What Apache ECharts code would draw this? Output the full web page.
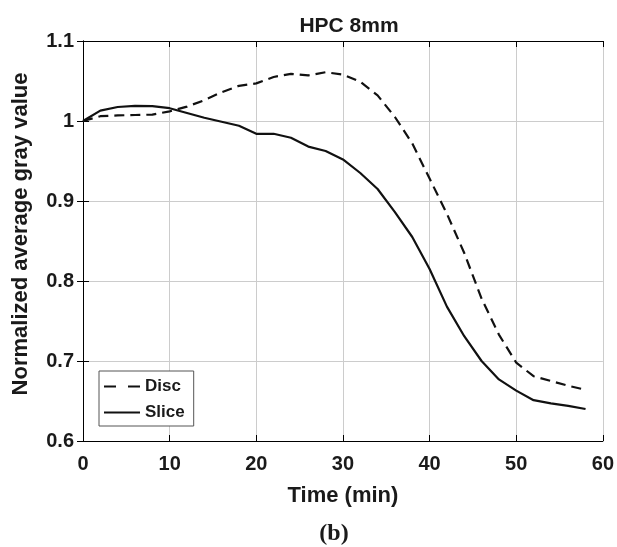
<!DOCTYPE html>
<html>
<head>
<meta charset="utf-8">
<script src="https://cdn.jsdelivr.net/npm/echarts@6/dist/echarts.min.js"></script>
<style>
  html, body { margin: 0; padding: 0; background: #fff; }
  #chart { width: 617px; height: 547px; }
</style>
</head>
<body>
<div id="chart"></div>
<script>
// time in minutes
const timeMin = [0, 2, 4, 6, 8, 10, 12, 14, 16, 18, 20, 22, 24, 26, 28, 30,
                 32, 34, 36, 38, 40, 42, 44, 46, 48, 50, 52, 54, 56, 58];

const discValues = [1.0, 1.006, 1.007, 1.0075, 1.008, 1.012, 1.018, 1.026, 1.036, 1.044,
                    1.047, 1.055, 1.059, 1.057, 1.061, 1.058, 1.049, 1.032, 1.005, 0.972,
                    0.928, 0.884, 0.835, 0.778, 0.733, 0.698, 0.681, 0.675, 0.669, 0.664];

const sliceValues = [1.0, 1.013, 1.0175, 1.019, 1.0185, 1.016, 1.010, 1.004, 0.999, 0.994,
                     0.984, 0.984, 0.979, 0.968, 0.9625, 0.952, 0.935, 0.915, 0.886, 0.855,
                     0.815, 0.768, 0.731, 0.700, 0.677, 0.663, 0.651, 0.647, 0.644, 0.640];

const font = 'Liberation Sans, Arial, sans-serif';
const ink = '#1a1a1a';

function pairs(xs, ys) {
    return xs.map((x, i) => [x, ys[i]]);
}

const chart = echarts.init(document.getElementById('chart'), null, { renderer: 'canvas' });

// top / right axes only close the box (ticks, no labels)
const boxAxis = {
    axisLine: { show: true, lineStyle: { color: '#000', width: 1 } },
    axisTick: { show: true, inside: true, length: 6, lineStyle: { color: '#000' } },
    axisLabel: { show: false },
    splitLine: { show: false }
};

chart.setOption({
    animation: false,
    textStyle: { fontFamily: font },
    title: {
        text: 'HPC 8mm',
        left: 344,
        textAlign: 'center',
        top: 11,
        textStyle: { fontFamily: font, fontSize: 21, fontWeight: 'bold', color: ink }
    },
    grid: { left: 83, right: 12, top: 41, bottom: 106 },
    legend: {
        left: 99,
        top: 371,
        orient: 'vertical',
        itemWidth: 36,
        itemHeight: 2.5,
        itemGap: 9,
        padding: [7, 9, 5, 5],
        borderColor: '#555',
        borderWidth: 1,
        borderRadius: 0,
        backgroundColor: '#fff',
        textStyle: { fontFamily: font, fontSize: 17, fontWeight: 'bold', color: ink },
        data: [
            { name: 'Disc', icon: 'path://M0,0h12v2h-12z M24,0h12v2h-12z' },
            { name: 'Slice', icon: 'path://M0,0h36v2h-36z' }
        ]
    },
    xAxis: [{
        type: 'value',
        min: 0,
        max: 60,
        interval: 10,
        name: 'Time (min)',
        nameLocation: 'middle',
        nameGap: 44,
        nameTextStyle: { fontFamily: font, fontSize: 22, fontWeight: 'bold', color: ink },
        axisLine: { show: true, onZero: false, lineStyle: { color: '#000', width: 1 } },
        axisTick: { show: true, inside: true, length: 6, lineStyle: { color: '#000' } },
        axisLabel: { fontFamily: font, fontSize: 20, fontWeight: 'bold', color: ink, margin: 13 },
        splitLine: { show: true, lineStyle: { color: '#cccccc', width: 1 } }
    }, Object.assign({
        type: 'value', position: 'top', min: 0, max: 60, interval: 10
    }, boxAxis)],
    yAxis: [{
        type: 'value',
        min: 0.6,
        max: 1.1,
        interval: 0.1,
        name: 'Normalized average gray value',
        nameLocation: 'middle',
        nameGap: 51,
        nameTextStyle: {
            fontFamily: font, fontSize: 22, fontWeight: 'bold', color: ink,
            padding: [0, 0, 0, 14]
        },
        axisLine: { show: true, onZero: false, lineStyle: { color: '#000', width: 1 } },
        axisTick: { show: true, inside: true, length: 6, lineStyle: { color: '#000' } },
        axisLabel: {
            fontFamily: font, fontSize: 20, fontWeight: 'bold', color: ink, margin: 9,
            formatter: (v) => String(Math.round(v * 10) / 10)
        },
        splitLine: { show: true, lineStyle: { color: '#cccccc', width: 1 } }
    }, Object.assign({
        type: 'value', position: 'right', min: 0.6, max: 1.1, interval: 0.1
    }, boxAxis)],
    series: [{
        name: 'Disc',
        type: 'line',
        data: pairs(timeMin, discValues),
        showSymbol: false,
        symbol: 'none',
        color: '#111',
        lineStyle: { color: '#111', width: 2.2, type: [10, 6] }
    }, {
        name: 'Slice',
        type: 'line',
        data: pairs(timeMin, sliceValues),
        showSymbol: false,
        symbol: 'none',
        color: '#111',
        lineStyle: { color: '#111', width: 2.2, type: 'solid' }
    }],
    graphic: [{
        type: 'text',
        x: 334,
        y: 522,
        style: {
            text: '(b)',
            align: 'center',
            font: 'bold 24px "Liberation Serif", "Times New Roman", serif',
            fill: ink
        }
    }]
});
</script>
</body>
</html>
